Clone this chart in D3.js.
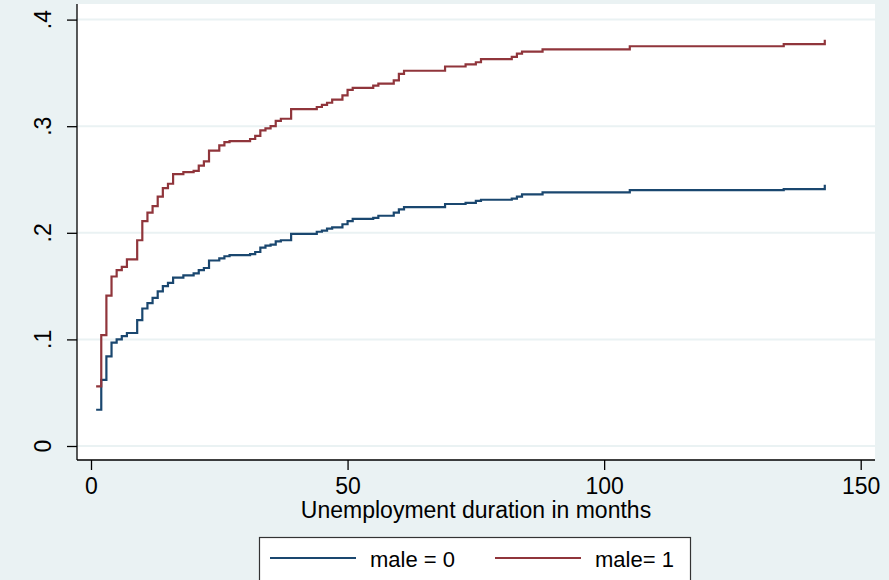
<!DOCTYPE html>
<html>
<head>
<meta charset="utf-8">
<script src="https://cdn.jsdelivr.net/npm/d3@7"></script>
<style>
  html, body { margin: 0; padding: 0; background: #eaf2f3; }
  svg { display: block; font-family: Arial, "Liberation Sans", sans-serif; }
</style>
</head>
<body>
<svg id="chart" width="889" height="580"></svg>
<script>
// event times (months) shared by both groups
const months = [1, 2, 3, 4, 5, 6, 7, 9, 10, 11, 12, 13, 14, 15, 16, 18, 20, 21, 22, 23,
  25, 26, 27, 31, 32, 33, 34, 35, 36, 37, 39, 44, 45, 46, 47, 49, 50, 51, 55, 56,
  59, 60, 61, 69, 73, 75, 76, 82, 83, 84, 88, 105, 135, 143];

// cumulative failure, male = 0
const female = [0.034, 0.062, 0.084, 0.097, 0.100, 0.103, 0.106, 0.118, 0.129, 0.134,
  0.139, 0.145, 0.150, 0.153, 0.158, 0.160, 0.162, 0.165, 0.167, 0.174,
  0.176, 0.178, 0.179, 0.180, 0.182, 0.186, 0.188, 0.189, 0.192, 0.193,
  0.199, 0.201, 0.202, 0.204, 0.205, 0.208, 0.211, 0.213, 0.214, 0.216,
  0.219, 0.222, 0.224, 0.227, 0.228, 0.230, 0.231, 0.232, 0.234, 0.236,
  0.238, 0.240, 0.241, 0.245];

// cumulative failure, male = 1
const male = [0.056, 0.104, 0.141, 0.159, 0.165, 0.168, 0.175, 0.193, 0.211, 0.219,
  0.225, 0.234, 0.242, 0.246, 0.255, 0.257, 0.258, 0.263, 0.267, 0.277,
  0.282, 0.285, 0.286, 0.288, 0.291, 0.296, 0.298, 0.300, 0.305, 0.307,
  0.316, 0.318, 0.320, 0.322, 0.325, 0.329, 0.334, 0.336, 0.338, 0.340,
  0.343, 0.349, 0.352, 0.356, 0.358, 0.360, 0.363, 0.365, 0.368, 0.370,
  0.372, 0.375, 0.377, 0.381];

const xTicks = [0, 50, 100, 150];
const yTicks = [0, 0.1, 0.2, 0.3, 0.4];
const yTickLabels = ['0', '.1', '.2', '.3', '.4'];
const seriesNames = ['male = 0', 'male= 1'];
const seriesColors = ['#1a476f', '#90353b'];
const xTitle = 'Unemployment duration in months';

const svg = d3.select('#chart');

// plot region (white)
const plot = { left: 77, right: 875, top: 4, bottom: 460 };

const x = d3.scaleLinear().domain([0, 150]).range([91, 860.7]);
const y = d3.scaleLinear().domain([0, 0.4]).range([446, 19.6]);

svg.append('rect')
  .attr('x', plot.left)
  .attr('y', plot.top)
  .attr('width', plot.right - plot.left)
  .attr('height', plot.bottom - plot.top)
  .style('fill', '#ffffff');

// horizontal gridlines
svg.append('g')
  .selectAll('line')
  .data(yTicks)
  .join('line')
  .attr('x1', plot.left)
  .attr('x2', plot.right)
  .attr('y1', d => y(d))
  .attr('y2', d => y(d))
  .style('stroke', '#eaf2f3')
  .style('stroke-width', 2);

// y axis
const yAxis = svg.append('g')
  .attr('transform', `translate(${plot.left},0)`)
  .call(d3.axisLeft(y).tickValues(yTicks).tickSize(10).tickFormat(''));
yAxis.select('.domain').attr('d', `M0,${plot.top}V${plot.bottom}`);
yAxis.selectAll('line, path').style('stroke', '#000').style('stroke-width', 1.3);

svg.append('g')
  .selectAll('text')
  .data(yTicks)
  .join('text')
  .attr('transform', d => `translate(51,${y(d)}) rotate(-90)`)
  .attr('text-anchor', 'middle')
  .style('font-size', '23px')
  .style('fill', '#000')
  .text((d, i) => yTickLabels[i]);

// x axis
const xAxis = svg.append('g')
  .attr('transform', `translate(0,${plot.bottom})`)
  .call(d3.axisBottom(x).tickValues(xTicks).tickSize(10).tickPadding(8).tickFormat(d3.format('d')));
xAxis.select('.domain').attr('d', `M${plot.left},0H${plot.right}`);
xAxis.selectAll('line, path').style('stroke', '#000').style('stroke-width', 1.3);
xAxis.selectAll('text')
  .style('font-size', '23px')
  .style('font-family', 'Arial, "Liberation Sans", sans-serif')
  .style('fill', '#000');

svg.append('text')
  .attr('x', (plot.left + plot.right) / 2)
  .attr('y', 518)
  .attr('text-anchor', 'middle')
  .style('font-size', '23px')
  .style('fill', '#000')
  .text(xTitle);

// step curves
const line = d3.line()
  .x(d => x(d[0]))
  .y(d => y(d[1]))
  .curve(d3.curveStepAfter);

[female, male].forEach((vals, i) => {
  svg.append('path')
    .datum(months.map((m, j) => [m, vals[j]]))
    .attr('d', line)
    .style('fill', 'none')
    .style('stroke', seriesColors[i])
    .style('stroke-width', 2.2);
});

// legend
const legend = svg.append('g');
legend.append('rect')
  .attr('x', 259.5)
  .attr('y', 537.5)
  .attr('width', 431)
  .attr('height', 60)
  .style('fill', '#ffffff')
  .style('stroke', '#333')
  .style('stroke-width', 1.2);

const legendX = [270, 495];
seriesNames.forEach((name, i) => {
  legend.append('line')
    .attr('x1', legendX[i])
    .attr('x2', legendX[i] + 86)
    .attr('y1', 558)
    .attr('y2', 558)
    .style('stroke', seriesColors[i])
    .style('stroke-width', 2);
  legend.append('text')
    .attr('x', legendX[i] + 100)
    .attr('y', 567)
    .style('font-size', '22px')
    .style('fill', '#000')
    .text(name);
});
</script>
</body>
</html>
